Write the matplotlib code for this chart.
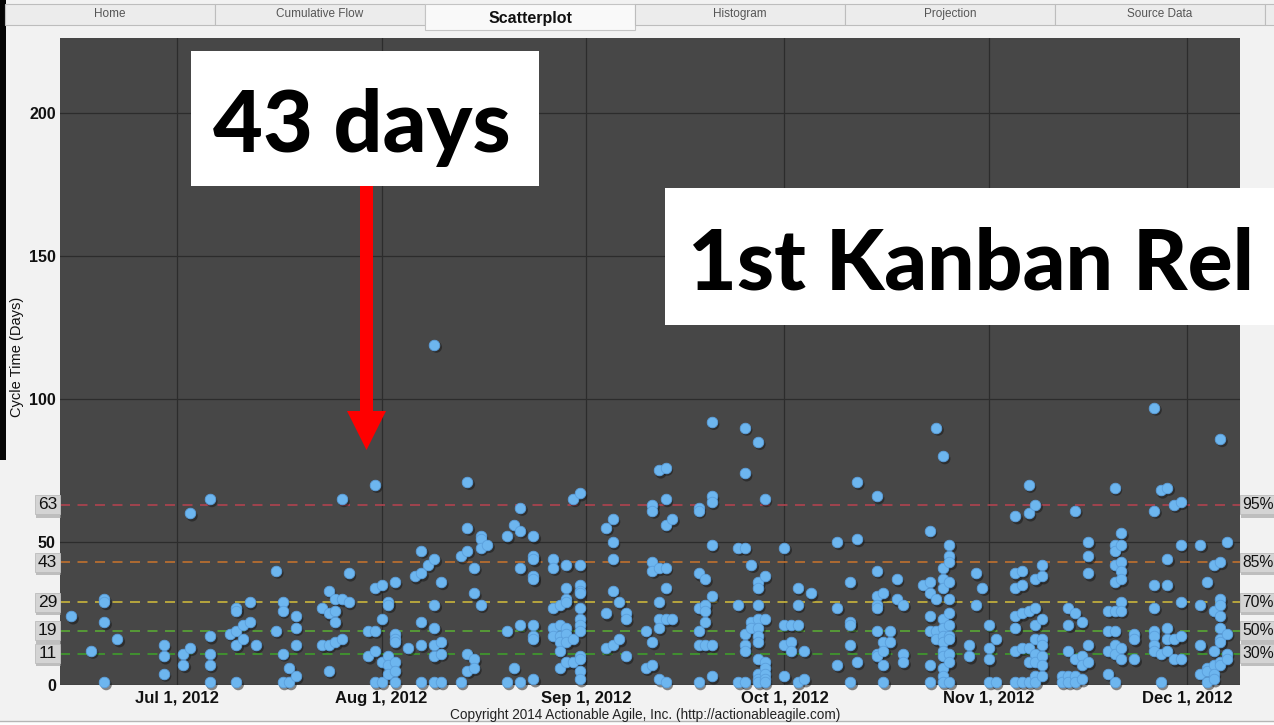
import datetime as dt
import matplotlib
matplotlib.use("Agg")
import matplotlib.pyplot as plt
import matplotlib.dates as mdates
import matplotlib.transforms as mtransforms
from matplotlib.patches import Rectangle, Polygon

# ---------------- data (completion day of month -> cycle times) ----------------
jun_day = [15, 18, 20, 22, 29]
jun_ct = [[24], [12], [30, 29, 22, 1], [16], [14, 10, 4]]

jul_day = [2, 3, 6, 9, 10, 11, 12, 13, 16, 17, 18, 19, 23, 24, 25, 26, 27, 30, 31]
jul_ct = [[11, 7], [60, 13], [65, 17, 11, 7, 1], [18], [27, 26, 19, 14, 1], [21, 16],
          [29, 22], [14], [40, 19], [29, 26, 11, 1], [6, 1], [24, 20, 14, 3], [27, 14],
          [33, 25, 14, 5], [30, 26, 22, 15], [65, 30, 16], [39, 29], [19, 10],
          [70, 34, 19, 12, 1]]

aug_day = [1, 2, 3, 5, 6, 7, 8, 9, 10, 13, 14, 15, 16, 17, 20, 21, 22, 24, 27, 28, 29, 30, 31]
aug_ct = [[35, 23, 8, 1], [29, 28, 10, 7, 4], [36, 18, 16, 15, 8, 5, 1], [13], [38],
          [47, 39, 22, 14, 1], [42], [119, 44, 28, 20, 14, 10, 1], [36, 15, 11, 1], [45, 1],
          [71, 55, 47, 11, 5], [41, 32, 9, 6], [52, 51, 48, 28], [49], [52, 19, 1], [56, 6],
          [62, 54, 41, 21, 1], [52, 45, 44, 38, 37, 21, 17, 16, 2], [44, 41, 27, 20, 17],
          [28, 21, 17, 15, 12, 6], [42, 34, 30, 29, 20, 18, 15, 8], [65, 16, 8],
          [67, 42, 35, 33, 32, 27, 23, 21, 19, 10, 9, 5, 2]]

sep_day = [4, 5, 6, 7, 10, 11, 12, 13, 14, 18, 19, 20, 24, 25, 26, 27, 28]
sep_ct = [[55, 25, 13], [58, 50, 44, 33, 14], [29, 16], [25, 23, 10], [19, 6],
          [63, 61, 43, 40, 15, 7], [75, 41, 29, 23, 20, 2], [76, 65, 56, 41, 34, 23, 1],
          [58, 23], [62, 61, 39, 27, 19, 14, 1], [37, 28, 26, 22, 14],
          [92, 66, 64, 49, 31, 14, 3], [48, 28, 1], [90, 74, 48, 18, 14, 12, 1], [42, 22, 20],
          [85, 36, 34, 28, 23, 20, 17, 15, 9, 4, 2, 1], [65, 38, 23, 8, 6, 4, 2, 1]]

oct_day = [1, 2, 3, 4, 5, 9, 11, 12, 15, 16, 17, 18, 19, 22, 23, 24, 25, 26, 29, 30, 31]
oct_ct = [[48, 21, 14, 3], [21, 15, 12], [34, 28, 21, 1], [12, 2], [32], [50, 27, 7],
          [36, 22, 21, 14, 1], [71, 51, 8], [66, 40, 31, 28, 27, 19, 11, 10],
          [32, 15, 12, 7, 1], [19, 15], [37, 30], [28, 11, 8], [35],
          [54, 36, 32, 24, 19, 7, 1], [90, 30, 19, 16],
          [80, 41, 37, 34, 23, 20, 17, 15, 12, 10, 6, 3, 1],
          [49, 45, 43, 36, 30, 25, 21, 17, 16, 11, 8, 1], [14, 10], [39, 28], [34]]

nov_day = [1, 2, 5, 6, 7, 8, 9, 12, 13, 14, 15, 16, 19, 20, 21, 23, 26, 27, 28, 29, 30]
nov_ct = [[21, 13, 9, 1], [16, 1], [59, 39, 34, 24, 20, 12, 1], [40, 35, 25, 13, 1],
          [70, 60, 26, 13, 8, 1], [63, 37, 27, 21, 16, 11, 8, 3, 1],
          [42, 38, 23, 16, 14, 10, 7, 3], [3, 1], [27, 21, 12, 3, 1], [61, 25, 9, 3, 1],
          [22, 10, 7, 2], [50, 45, 39, 14, 8], [26, 19, 12, 4],
          [69, 49, 47, 42, 36, 26, 19, 14, 11, 1], [53, 49, 43, 40, 37, 29, 26, 13, 9],
          [18, 16, 9], [97, 61, 35, 27, 19, 17, 14, 12], [68, 11, 1],
          [69, 44, 35, 20, 16, 12], [63, 16, 9], [64, 49, 29, 17, 9]]

dec_day = [3, 4, 5, 6, 7]
dec_ct = [[49, 28, 14, 4], [36, 6, 5, 1], [42, 26, 12, 7, 4, 2],
          [86, 43, 30, 28, 24, 20, 16, 15, 8, 7], [50, 18, 11, 9]]

pct_levels = [63, 43, 29, 19, 11]
pct_names = ["95%", "85%", "70%", "50%", "30%"]
pct_colors = ["#b0434f", "#c0702e", "#c9b53c", "#58a834", "#3f9c2c"]

y_ticks = [0, 50, 100, 150, 200]
x_tick_dates = [dt.datetime(2012, m, 1) for m in (7, 8, 9, 10, 11, 12)]
x_tick_labels = ["Jul 1, 2012", "Aug 1, 2012", "Sep 1, 2012", "Oct 1, 2012",
                 "Nov 1, 2012", "Dec 1, 2012"]
tab_names = ["Home", "Cumulative Flow", "Scatterplot", "Histogram", "Projection", "Source Data"]

# ---------------- build points ----------------
months = [(6, jun_day, jun_ct), (7, jul_day, jul_ct), (8, aug_day, aug_ct),
          (9, sep_day, sep_ct), (10, oct_day, oct_ct), (11, nov_day, nov_ct),
          (12, dec_day, dec_ct)]
xs, ys = [], []
for m, days, cts in months:
    for d, vals in zip(days, cts):
        for v in vals:
            xs.append(dt.datetime(2012, m, d))
            ys.append(v)

# ---------------- figure ----------------
W, H = 1274, 725
fig = plt.figure(figsize=(W / 100, H / 100), dpi=100, facecolor="#f2f2f2")
plt.rcParams["font.family"] = ["Liberation Sans", "DejaVu Sans"]


def fx(x):
    return x / W


def fy(y):
    return 1 - y / H


def frect(x0, y0, x1, y1, **kw):
    r = Rectangle((fx(x0), fy(y1)), fx(x1) - fx(x0), fy(y0) - fy(y1),
                  transform=fig.transFigure, **kw)
    fig.add_artist(r)
    return r


# left dark strip & bottom line
frect(0, 0, 6, 460, facecolor="#050505", edgecolor="none", zorder=1)
frect(0, 721, W, 725, facecolor="#fdfdfd", edgecolor="none", zorder=1)
fig.add_artist(plt.Line2D([0, 1], [fy(721), fy(721)], transform=fig.transFigure,
                          color="#b5b5b5", lw=1))

# tabs
for i, name in enumerate(tab_names):
    x0 = 5 + i * 210
    if i == 2:
        frect(x0, 4, x0 + 210, 30, facecolor="#f9f9f9", edgecolor="#c4c4c4", lw=0.8, zorder=2)
        fig.text(fx(x0 + 105), fy(18), name, ha="center", va="center",
                 fontsize=11.5, fontweight="bold", color="#111111", zorder=3)
    else:
        frect(x0, 4, x0 + 210, 25, facecolor="#ececec", edgecolor="#bdbdbd", lw=0.8, zorder=2)
        fig.text(fx(x0 + 105), fy(14), name, ha="center", va="center",
                 fontsize=8.5, color="#555555", zorder=3)
frect(1265, 4, 1290, 25, facecolor="#ececec", edgecolor="#bdbdbd", lw=0.8, zorder=2)

# ---------------- axes ----------------
ax = fig.add_axes([fx(60), fy(685), fx(1240) - fx(60), fy(38) - fy(685)])
ax.set_facecolor("#474747")
x_left = mdates.date2num(dt.datetime(2012, 7, 1)) - 17.7
x_right = mdates.date2num(dt.datetime(2012, 7, 1)) + 161.0
ax.set_xlim(x_left, x_right)
ax.set_ylim(0, 226.2)
for s in ax.spines.values():
    s.set_visible(False)

ax.set_yticks(y_ticks)
ax.set_yticklabels([str(t) for t in y_ticks])
ax.set_xticks(mdates.date2num(x_tick_dates))
ax.set_xticklabels(x_tick_labels)
ax.tick_params(axis="both", length=0, labelcolor="#111111")
ax.tick_params(axis="y", pad=3, labelsize=11.5)
ax.tick_params(axis="x", pad=4, labelsize=12)
for lab in ax.get_xticklabels() + ax.get_yticklabels():
    lab.set_fontweight("bold")
ax.grid(True, color="#2c2c2c", lw=0.9)
ax.set_axisbelow(True)

# percentile lines
for lvl, c in zip(pct_levels, pct_colors):
    ax.axhline(lvl, color=c, lw=1.2, dashes=(6, 4.5), zorder=2)

# points with drop shadow
shadow_tr = mtransforms.offset_copy(ax.transData, fig=fig, x=2, y=-2.5, units="dots")
ax.scatter(xs, ys, s=66, color="#151515", alpha=0.5, edgecolors="none",
           transform=shadow_tr, zorder=3, clip_on=False)
ax.scatter(xs, ys, s=58, color="#6db6ef", edgecolors="#5b9fdc", linewidths=0.6,
           zorder=4, clip_on=False)

# percentile label boxes
blend = mtransforms.blended_transform_factory(ax.transAxes, ax.transData)
ax_w = 1180.0
hpx = 19 / 2.86
for lvl, name in zip(pct_levels, pct_names):
    # left
    ax.add_patch(Rectangle((-25 / ax_w + 1 / ax_w, lvl - hpx / 2 - 1.2), 25 / ax_w, hpx,
                           transform=blend, facecolor="#9c9c9c", edgecolor="none",
                           alpha=0.6, clip_on=False, zorder=5))
    ax.add_patch(Rectangle((-25 / ax_w, lvl - hpx / 2), 25 / ax_w, hpx,
                           transform=blend, facecolor="#d4d4d4", edgecolor="#bcbcbc",
                           lw=0.6, clip_on=False, zorder=6))
    ax.text(-12.5 / ax_w, lvl, str(lvl), transform=blend, ha="center", va="center",
            fontsize=12.5, color="#111111", zorder=7, clip_on=False)
    # right
    ax.add_patch(Rectangle((1 + 1 / ax_w, lvl - hpx / 2 - 1.2), 40 / ax_w, hpx,
                           transform=blend, facecolor="#9c9c9c", edgecolor="none",
                           alpha=0.6, clip_on=False, zorder=5))
    ax.add_patch(Rectangle((1.0, lvl - hpx / 2), 40 / ax_w, hpx,
                           transform=blend, facecolor="#d4d4d4", edgecolor="#bcbcbc",
                           lw=0.6, clip_on=False, zorder=6))
    ax.text(1 + 2 / ax_w, lvl, name, transform=blend, ha="left", va="center",
            fontsize=11.3, color="#111111", zorder=7, clip_on=False)

# axis title and copyright
fig.text(fx(17), fy(357), "Cycle Time (Days)", rotation=90, ha="center", va="center",
         fontsize=10.5, color="#111111")
fig.text(fx(645), fy(715), "Copyright 2014 Actionable Agile, Inc. (http://actionableagile.com)",
         ha="center", va="center", fontsize=9.8, color="#222222")

# ---------------- annotations ----------------
frect(191, 51, 539, 186, facecolor="white", edgecolor="none", zorder=10)
fig.text(fx(362), fy(152), "43 days", ha="center", va="baseline", fontsize=62,
         fontweight="black", family="Lato", color="black", zorder=11)

arrow_px = [(360, 186), (373, 186), (373, 411), (386, 411), (366.5, 450), (347, 411), (360, 411)]
fig.add_artist(Polygon([(fx(a), fy(b)) for a, b in arrow_px], closed=True,
                       transform=fig.transFigure, facecolor="#ff0000", edgecolor="none",
                       zorder=10))

frect(665, 188, 1290, 325, facecolor="white", edgecolor="none", zorder=10)
fig.text(fx(688), fy(290), "1st Kanban Rel", ha="left", va="baseline", fontsize=60.5,
         fontweight="black", family="Lato", color="black", zorder=11)

fig.savefig("out.png", dpi=100, facecolor=fig.get_facecolor())
